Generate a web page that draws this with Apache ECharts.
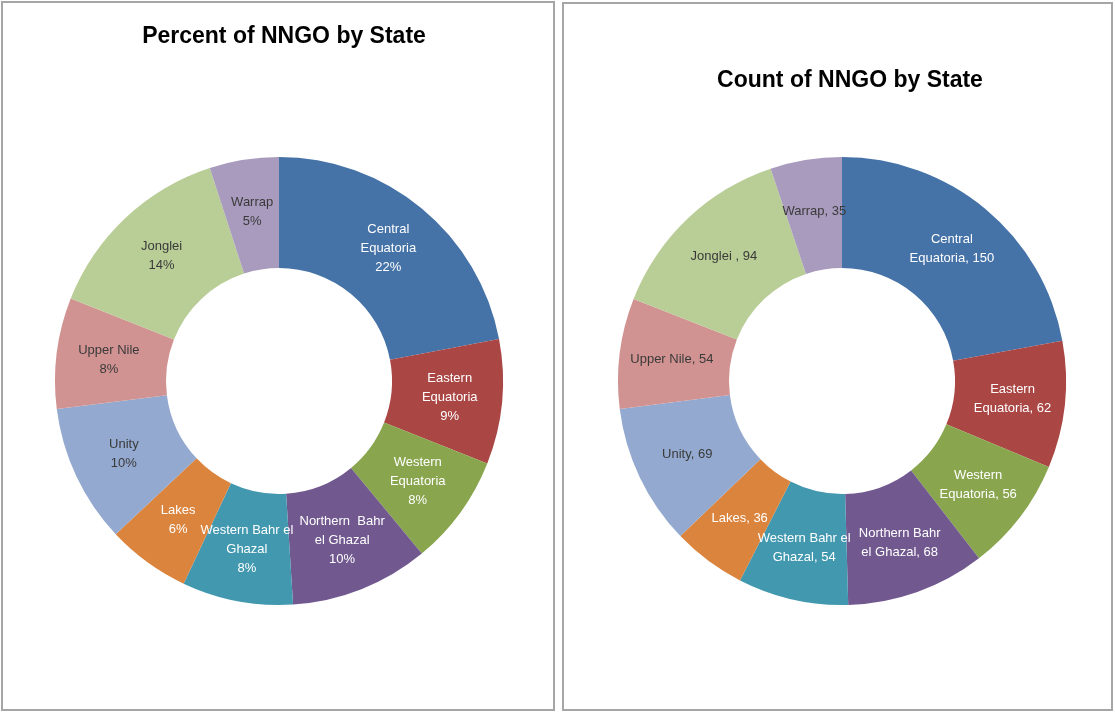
<!DOCTYPE html>
<html>
<head>
<meta charset="utf-8">
<title>NNGO by State</title>
<script src="https://cdn.jsdelivr.net/npm/echarts@6.0.0/dist/echarts.min.js"></script>
<style>
  html, body { margin: 0; padding: 0; background: #fff; }
  #chart { width: 1115px; height: 712px; }
</style>
</head>
<body>
<div id="chart"></div>
<script>
// data
const states = ['Central Equatoria', 'Eastern Equatoria', 'Western Equatoria', 'Northern Bahr el Ghazal',
  'Western Bahr el Ghazal', 'Lakes', 'Unity', 'Upper Nile', 'Jonglei', 'Warrap']
const percentValues = [22, 9, 8, 10, 8, 6, 10, 8, 14, 5]
const countValues = [150, 62, 56, 68, 54, 36, 69, 54, 94, 35]

// how the labels wrap in each chart
const percentLabels = ['Central\nEquatoria', 'Eastern\nEquatoria', 'Western\nEquatoria', 'Northern  Bahr\nel Ghazal',
  'Western Bahr el\nGhazal', 'Lakes', 'Unity', 'Upper Nile', 'Jonglei', 'Warrap']
const countLabels = ['Central\nEquatoria, ', 'Eastern\nEquatoria, ', 'Western\nEquatoria, ', 'Northern Bahr\nel Ghazal, ',
  'Western Bahr el\nGhazal, ', 'Lakes, ', 'Unity, ', 'Upper Nile, ', 'Jonglei , ', 'Warrap, ']

const colors = ['#4572A7', '#AA4643', '#89A54E', '#71588F', '#4198AF', '#DB843D', '#93A9CF', '#D19392', '#B9CD96', '#A99BBD']
const labelColors = ['#fff', '#fff', '#fff', '#fff', '#fff', '#fff', '#3a3a3a', '#3a3a3a', '#3a3a3a', '#3a3a3a']

function buildData(values, labels, suffix) {
  return values.map((v, i) => ({
    name: states[i],
    value: v,
    itemStyle: { color: colors[i] },
    label: { color: labelColors[i], formatter: labels[i] + (labels[i].endsWith(', ') ? '' : '\n') + v + suffix }
  }))
}

function donut(centerX, data) {
  return {
    type: 'pie',
    center: [centerX, 381],
    radius: [113, 224],
    startAngle: 90,
    clockwise: true,
    silent: true,
    label: {
      show: true,
      position: 'inside',
      fontFamily: 'Liberation Sans',
      fontSize: 13,
      lineHeight: 19,
      align: 'center'
    },
    labelLine: { show: false },
    data: data
  }
}

const chart = echarts.init(document.getElementById('chart'))
chart.setOption({
  animation: false,
  title: [
    {
      text: 'Percent of NNGO by State',
      left: 279, top: 20, textAlign: 'center',
      textStyle: { fontFamily: 'Liberation Sans', fontSize: 23, fontWeight: 'bold', color: '#000' }
    },
    {
      text: 'Count of NNGO by State',
      left: 845, top: 64, textAlign: 'center',
      textStyle: { fontFamily: 'Liberation Sans', fontSize: 23, fontWeight: 'bold', color: '#000' }
    }
  ],
  graphic: [
    { type: 'rect', shape: { x: 2, y: 2, width: 552, height: 708 }, style: { fill: 'none', stroke: '#a6a6a6', lineWidth: 2 } },
    { type: 'rect', shape: { x: 563, y: 3, width: 549, height: 707 }, style: { fill: 'none', stroke: '#a6a6a6', lineWidth: 2 } }
  ],
  series: [
    donut(279, buildData(percentValues, percentLabels, '%')),
    donut(842, buildData(countValues, countLabels, ''))
  ]
})
</script>
</body>
</html>
